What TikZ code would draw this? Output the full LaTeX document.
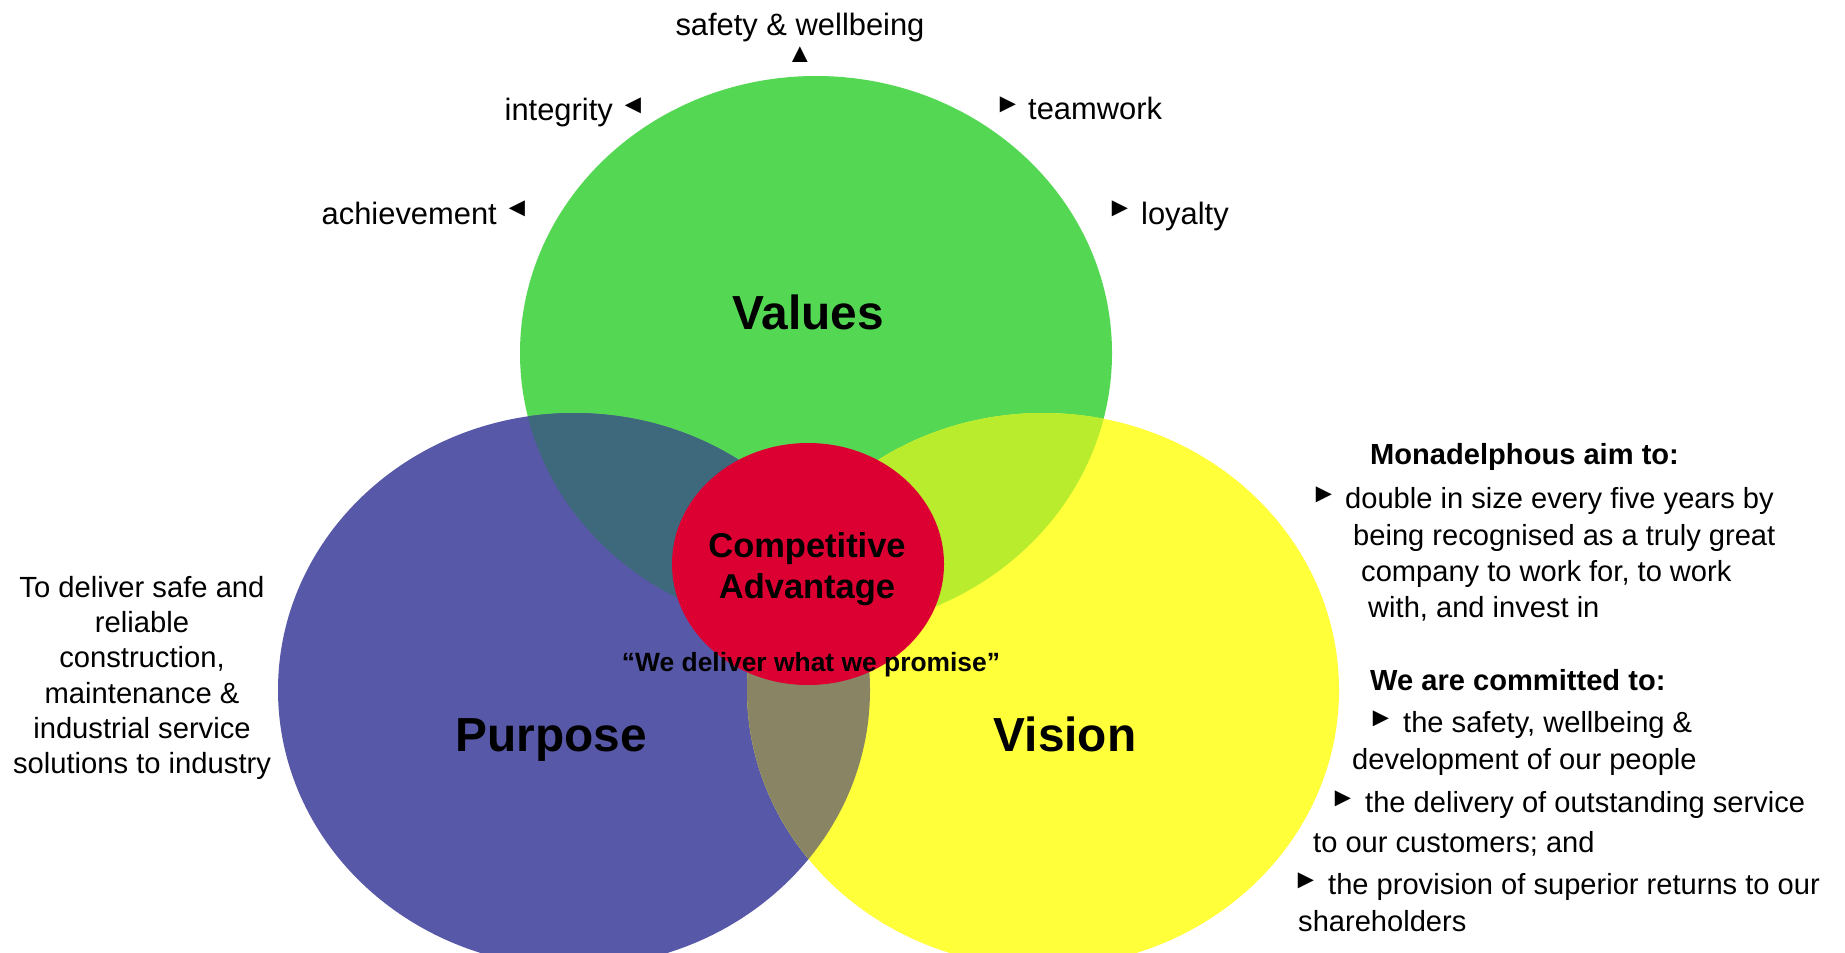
\documentclass[tikz,border=0pt]{standalone}
\usepackage{fontspec}
\setmainfont{Liberation Sans}

\definecolor{valuesgreen}{RGB}{84,216,84}
\definecolor{purposeblue}{RGB}{88,88,168}
\definecolor{visionyellow}{RGB}{255,255,58}
\definecolor{vpblend}{RGB}{62,104,124}
\definecolor{vvblend}{RGB}{186,236,46}
\definecolor{pvblend}{RGB}{136,132,100}
\definecolor{coralred}{RGB}{220,0,50}

\tikzset{
  disc/.style={x radius=296bp,y radius=277bp},
  ringname/.style={font=\fontsize{48}{56}\selectfont\bfseries,text height=35bp,text depth=0bp,inner sep=0},
  word/.style={font=\fontsize{31}{37}\selectfont,text height=22bp,text depth=6.5bp,inner sep=0,yshift=-3.5bp},
  bodyline/.style={font=\fontsize{29.2}{35.3}\selectfont,text height=21bp,text depth=6bp,inner sep=0,anchor=west,yshift=-3.5bp},
  headline/.style={bodyline,font=\fontsize{29.2}{35.3}\selectfont\bfseries},
  pointer/.style={font=\fontsize{27}{27}\selectfont,inner sep=0},
}

\begin{document}
\begin{tikzpicture}[x=1bp,y=-1bp]
\fill[white] (0,0) rectangle (1845,952);
\clip (0,0) rectangle (1845,952);
\coordinate (values) at (816,353);
\coordinate (purpose) at (574,690);
\coordinate (vision) at (1043,690);
\coordinate (core) at (808,564);
% the three rings and their overlaps
\fill[valuesgreen] (values) ellipse [disc];
\fill[purposeblue] (purpose) ellipse [disc];
\fill[visionyellow] (vision) ellipse [disc];
\begin{scope}
\clip (values) ellipse [disc];
\fill[vpblend] (purpose) ellipse [disc];
\fill[vvblend] (vision) ellipse [disc];
\end{scope}
\begin{scope}
\clip (purpose) ellipse [disc];
\fill[pvblend] (vision) ellipse [disc];
\end{scope}
\fill[coralred] (core) ellipse [x radius=136bp,y radius=121bp];

\node[ringname] (valuesname) at (808,312) {Values};
\node[ringname] (purposename) at (551,734) {Purpose};
\node[ringname] (visionname) at (1065,734) {Vision};
\node[font=\fontsize{34.6}{41}\selectfont\bfseries,align=center,inner sep=0] (advantage) at (807,569) {Competitive\\Advantage};
\node[font=\fontsize{26.5}{30}\selectfont\bfseries,inner sep=0] (promise) at (811,665) {“We deliver what we promise”};

% values around the top ring
\node[word] (safety) at (800,24) {safety \& wellbeing};
\node[pointer] (uptip) at (800,55) {▲};
\node[word,anchor=east] (integrity) at (613,109) {integrity};
\node[pointer] (intip) at (633,106) {◄};
\node[word,anchor=east] (achievement) at (497,213) {achievement};
\node[pointer] (achtip) at (517,209) {◄};
\node[word,anchor=west] (teamwork) at (1028,108) {teamwork};
\node[pointer] (teamtip) at (1008,105) {►};
\node[word,anchor=west] (loyalty) at (1141,213) {loyalty};
\node[pointer] (loyaltip) at (1120,209) {►};

\node[font=\fontsize{29.3}{35.3}\selectfont,align=center,inner sep=0] (purposetext) at (142,678) {To deliver safe and\\reliable\\construction,\\maintenance \&\\industrial service\\solutions to industry};

% aims and commitments
\node[headline] (aimhead) at (1370,453) {Monadelphous aim to:};
\node[pointer] (aimtip) at (1324,495) {►};
\node[bodyline] (aim1) at (1345,497) {double in size every five years by};
\node[bodyline] (aim2) at (1353,534) {being recognised as a truly great};
\node[bodyline] (aim3) at (1361,570) {company to work for, to work};
\node[bodyline] (aim4) at (1368,606) {with, and invest in};
\node[headline] (commithead) at (1370,679) {We are committed to:};
\node[pointer] (tip1) at (1381,719) {►};
\node[bodyline] (commit1) at (1403,721) {the safety, wellbeing \&};
\node[bodyline] (commit1b) at (1352,758) {development of our people};
\node[pointer] (tip2) at (1343,799) {►};
\node[bodyline] (commit2) at (1365,801) {the delivery of outstanding service};
\node[bodyline] (commit2b) at (1313,841) {to our customers; and};
\node[pointer] (tip3) at (1306,881) {►};
\node[bodyline] (commit3) at (1328,883) {the provision of superior returns to our};
\node[bodyline] (commit3b) at (1298,920) {shareholders};
\end{tikzpicture}
\end{document}
